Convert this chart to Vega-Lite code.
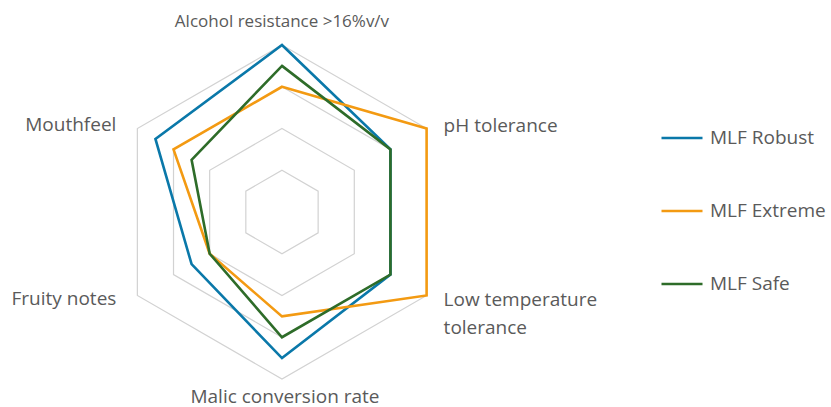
{
  "$schema": "https://vega.github.io/schema/vega-lite/v6.json",
  "width": 831,
  "height": 407,
  "autosize": {"type": "none"},
  "padding": 0,
  "background": "white",
  "config": {"view": {"stroke": null}},
  "datasets": {
    "scores": [
      {"series": "MLF Robust", "axis": "Alcohol resistance >16%v/v", "value": 4},
      {"series": "MLF Robust", "axis": "pH tolerance", "value": 3},
      {"series": "MLF Robust", "axis": "Low temperature tolerance", "value": 3},
      {"series": "MLF Robust", "axis": "Malic conversion rate", "value": 3.5},
      {"series": "MLF Robust", "axis": "Fruity notes", "value": 2.5},
      {"series": "MLF Robust", "axis": "Mouthfeel", "value": 3.5},
      {"series": "MLF Extreme", "axis": "Alcohol resistance >16%v/v", "value": 3},
      {"series": "MLF Extreme", "axis": "pH tolerance", "value": 4},
      {"series": "MLF Extreme", "axis": "Low temperature tolerance", "value": 4},
      {"series": "MLF Extreme", "axis": "Malic conversion rate", "value": 2.5},
      {"series": "MLF Extreme", "axis": "Fruity notes", "value": 2},
      {"series": "MLF Extreme", "axis": "Mouthfeel", "value": 3},
      {"series": "MLF Safe", "axis": "Alcohol resistance >16%v/v", "value": 3.5},
      {"series": "MLF Safe", "axis": "pH tolerance", "value": 3},
      {"series": "MLF Safe", "axis": "Low temperature tolerance", "value": 3},
      {"series": "MLF Safe", "axis": "Malic conversion rate", "value": 3},
      {"series": "MLF Safe", "axis": "Fruity notes", "value": 2},
      {"series": "MLF Safe", "axis": "Mouthfeel", "value": 2.5}
    ],
    "axes": [
      {"axis": "Alcohol resistance >16%v/v", "label": "Alcohol resistance >16%v/v"},
      {"axis": "pH tolerance", "label": "pH tolerance"},
      {"axis": "Low temperature tolerance", "label": "Low temperature\ntolerance"},
      {"axis": "Malic conversion rate", "label": "Malic conversion rate"},
      {"axis": "Fruity notes", "label": "Fruity notes"},
      {"axis": "Mouthfeel", "label": "Mouthfeel"}
    ],
    "grid": [
      {"level": 1, "axis": "Alcohol resistance >16%v/v"}, {"level": 1, "axis": "pH tolerance"}, {"level": 1, "axis": "Low temperature tolerance"}, {"level": 1, "axis": "Malic conversion rate"}, {"level": 1, "axis": "Fruity notes"}, {"level": 1, "axis": "Mouthfeel"},
      {"level": 2, "axis": "Alcohol resistance >16%v/v"}, {"level": 2, "axis": "pH tolerance"}, {"level": 2, "axis": "Low temperature tolerance"}, {"level": 2, "axis": "Malic conversion rate"}, {"level": 2, "axis": "Fruity notes"}, {"level": 2, "axis": "Mouthfeel"},
      {"level": 3, "axis": "Alcohol resistance >16%v/v"}, {"level": 3, "axis": "pH tolerance"}, {"level": 3, "axis": "Low temperature tolerance"}, {"level": 3, "axis": "Malic conversion rate"}, {"level": 3, "axis": "Fruity notes"}, {"level": 3, "axis": "Mouthfeel"},
      {"level": 4, "axis": "Alcohol resistance >16%v/v"}, {"level": 4, "axis": "pH tolerance"}, {"level": 4, "axis": "Low temperature tolerance"}, {"level": 4, "axis": "Malic conversion rate"}, {"level": 4, "axis": "Fruity notes"}, {"level": 4, "axis": "Mouthfeel"}
    ]
  },
  "resolve": {"scale": {"x": "shared", "y": "shared"}},
  "layer": [
    {
      "data": {"name": "grid"},
      "transform": [
        {"calculate": "indexof(['Alcohol resistance >16%v/v','pH tolerance','Low temperature tolerance','Malic conversion rate','Fruity notes','Mouthfeel'], datum.axis)", "as": "k"},
        {"calculate": "datum.level * sin(datum.k * PI / 3)", "as": "px"},
        {"calculate": "datum.level * cos(datum.k * PI / 3)", "as": "py"}
      ],
      "mark": {"type": "line", "interpolate": "linear-closed", "color": "#d2d2d2", "strokeWidth": 1.2},
      "encoding": {
        "x": {"field": "px", "type": "quantitative", "scale": {"domain": [-6.754, 13.15], "nice": false, "zero": false}, "axis": null},
        "y": {"field": "py", "type": "quantitative", "scale": {"domain": [-4.671, 5.078], "nice": false, "zero": false}, "axis": null},
        "detail": {"field": "level", "type": "nominal"},
        "order": {"field": "k", "type": "quantitative"}
      }
    },
    {
      "data": {"name": "scores"},
      "transform": [
        {"calculate": "indexof(['Alcohol resistance >16%v/v','pH tolerance','Low temperature tolerance','Malic conversion rate','Fruity notes','Mouthfeel'], datum.axis)", "as": "k"},
        {"calculate": "datum.value * sin(datum.k * PI / 3)", "as": "px"},
        {"calculate": "datum.value * cos(datum.k * PI / 3)", "as": "py"}
      ],
      "mark": {"type": "line", "interpolate": "linear-closed", "strokeWidth": 2.6},
      "encoding": {
        "x": {"field": "px", "type": "quantitative", "axis": null},
        "y": {"field": "py", "type": "quantitative", "axis": null},
        "order": {"field": "k", "type": "quantitative"},
        "color": {
          "field": "series", "type": "nominal",
          "scale": {"domain": ["MLF Robust", "MLF Extreme", "MLF Safe"], "range": ["#0a78a9", "#f39a12", "#2e6c29"]},
          "legend": {
            "title": null,
            "orient": "none",
            "legendX": 660,
            "legendY": 116,
            "symbolType": "stroke",
            "symbolSize": 1681,
            "symbolStrokeWidth": 2.6,
            "labelFont": "Open Sans",
            "labelFontSize": 19,
            "labelColor": "#5a5a5a",
            "labelOffset": 6,
            "rowPadding": 41,
            "labelLimit": 300
          }
        }
      }
    },
    {
      "data": {"name": "axes"},
      "transform": [
        {"filter": "datum.axis == 'Alcohol resistance >16%v/v'"},
        {"calculate": "0", "as": "px"},
        {"calculate": "4", "as": "py"}
      ],
      "mark": {"type": "text", "font": "Open Sans", "fontSize": 17, "fill": "#5a5a5a", "align": "center", "baseline": "middle", "dy": -23},
      "encoding": {"x": {"field": "px", "type": "quantitative"}, "y": {"field": "py", "type": "quantitative"}, "text": {"field": "label"}}
    },
    {
      "data": {"name": "axes"},
      "transform": [
        {"filter": "datum.axis == 'pH tolerance'"},
        {"calculate": "4 * sin(PI / 3)", "as": "px"},
        {"calculate": "4 * cos(PI / 3)", "as": "py"}
      ],
      "mark": {"type": "text", "font": "Open Sans", "fontSize": 19, "fill": "#5a5a5a", "align": "left", "baseline": "middle", "dx": 17, "dy": -2},
      "encoding": {"x": {"field": "px", "type": "quantitative"}, "y": {"field": "py", "type": "quantitative"}, "text": {"field": "label"}}
    },
    {
      "data": {"name": "axes"},
      "transform": [
        {"filter": "datum.axis == 'Low temperature tolerance'"},
        {"calculate": "4 * sin(2 * PI / 3)", "as": "px"},
        {"calculate": "4 * cos(2 * PI / 3)", "as": "py"}
      ],
      "mark": {"type": "text", "font": "Open Sans", "fontSize": 19, "fill": "#5a5a5a", "align": "left", "baseline": "middle", "dx": 17, "dy": 5, "lineBreak": "\n", "lineHeight": 28},
      "encoding": {"x": {"field": "px", "type": "quantitative"}, "y": {"field": "py", "type": "quantitative"}, "text": {"field": "label"}}
    },
    {
      "data": {"name": "axes"},
      "transform": [
        {"filter": "datum.axis == 'Malic conversion rate'"},
        {"calculate": "0", "as": "px"},
        {"calculate": "-4", "as": "py"}
      ],
      "mark": {"type": "text", "font": "Open Sans", "fontSize": 19, "fill": "#5a5a5a", "align": "center", "baseline": "middle", "dx": 3, "dy": 18},
      "encoding": {"x": {"field": "px", "type": "quantitative"}, "y": {"field": "py", "type": "quantitative"}, "text": {"field": "label"}}
    },
    {
      "data": {"name": "axes"},
      "transform": [
        {"filter": "datum.axis == 'Fruity notes'"},
        {"calculate": "4 * sin(4 * PI / 3)", "as": "px"},
        {"calculate": "4 * cos(4 * PI / 3)", "as": "py"}
      ],
      "mark": {"type": "text", "font": "Open Sans", "fontSize": 19, "fill": "#5a5a5a", "align": "right", "baseline": "middle", "dx": -21, "dy": 4},
      "encoding": {"x": {"field": "px", "type": "quantitative"}, "y": {"field": "py", "type": "quantitative"}, "text": {"field": "label"}}
    },
    {
      "data": {"name": "axes"},
      "transform": [
        {"filter": "datum.axis == 'Mouthfeel'"},
        {"calculate": "4 * sin(5 * PI / 3)", "as": "px"},
        {"calculate": "4 * cos(5 * PI / 3)", "as": "py"}
      ],
      "mark": {"type": "text", "font": "Open Sans", "fontSize": 19, "fill": "#5a5a5a", "align": "right", "baseline": "middle", "dx": -21, "dy": -3},
      "encoding": {"x": {"field": "px", "type": "quantitative"}, "y": {"field": "py", "type": "quantitative"}, "text": {"field": "label"}}
    }
  ]
}
